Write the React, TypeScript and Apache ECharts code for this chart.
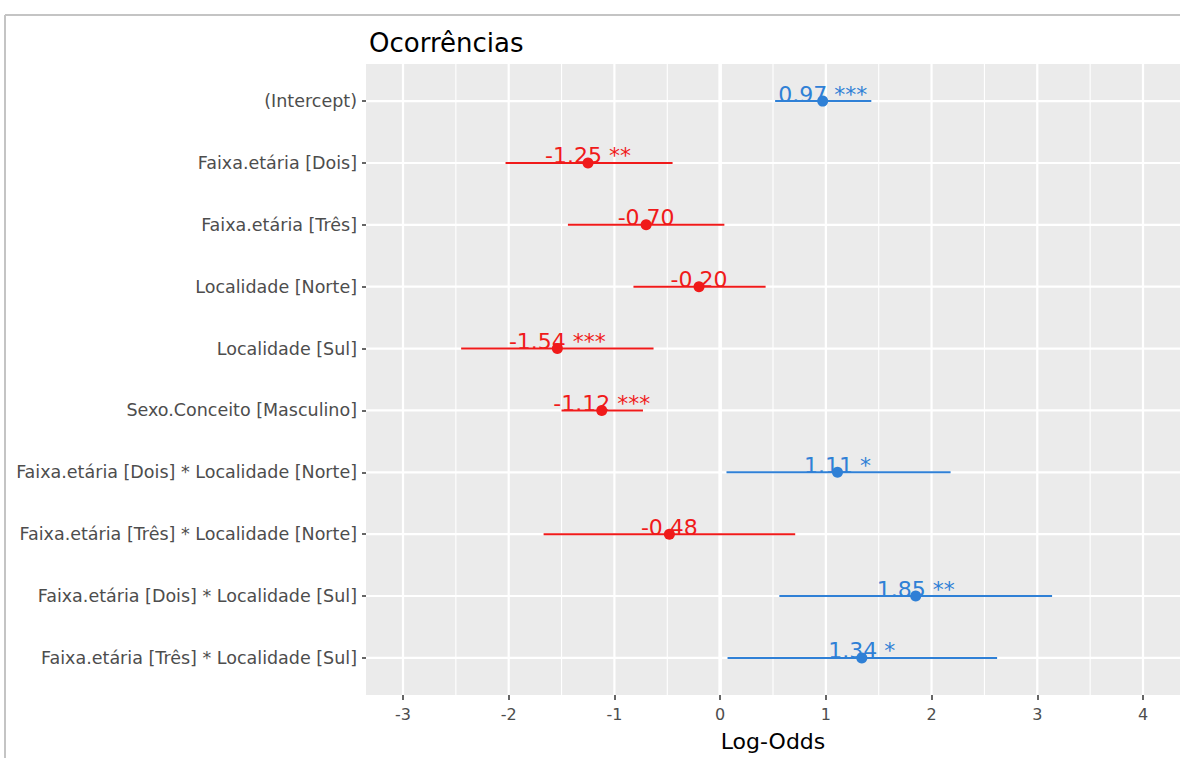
import React, { useEffect, useRef } from "react";
import * as echarts from "echarts";

const terms = [
  "(Intercept)",
  "Faixa.etária [Dois]",
  "Faixa.etária [Três]",
  "Localidade [Norte]",
  "Localidade [Sul]",
  "Sexo.Conceito [Masculino]",
  "Faixa.etária [Dois] * Localidade [Norte]",
  "Faixa.etária [Três] * Localidade [Norte]",
  "Faixa.etária [Dois] * Localidade [Sul]",
  "Faixa.etária [Três] * Localidade [Sul]",
];
const estimates = [0.97, -1.25, -0.7, -0.2, -1.54, -1.12, 1.11, -0.48, 1.85, 1.34];
const ciLow = [0.52, -2.03, -1.44, -0.82, -2.45, -1.5, 0.06, -1.67, 0.56, 0.07];
const ciHigh = [1.43, -0.45, 0.04, 0.43, -0.63, -0.73, 2.18, 0.71, 3.14, 2.62];
const stars = ["***", "**", "", "", "***", "***", "*", "", "**", "*"];
const xTicks = [-3, -2, -1, 0, 1, 2, 3, 4];
const xMinor = [-2.5, -1.5, -0.5, 0.5, 1.5, 2.5, 3.5];
const rowIdx = terms.map((_, i) => i);

const BLUE = "#2f80d6";
const RED = "#f01a1a";
const FONT = "DejaVu Sans";

export default function App() {
  const ref = useRef<HTMLDivElement>(null);
  useEffect(() => {
    if (!ref.current) return;
    const chart = echarts.init(ref.current, undefined, { renderer: "svg" });

    const labelText = estimates.map(
      (e, i) => e.toFixed(2) + (stars[i] ? " " + stars[i] : "")
    );

    const vData = [
      ...xMinor.map((v) => [v, 1.1]),
      ...xTicks.filter((v) => v !== 0).map((v) => [v, 2.2]),
    ];
    const hData = rowIdx.map((i) => [0, i]);

    const option: any = {
      animation: false,
      backgroundColor: "#ffffff",
      title: {
        text: "Ocorrências",
        left: 364,
        top: 25,
        textStyle: { fontFamily: FONT, fontSize: 26, fontWeight: "normal", color: "#000" },
      },
      graphic: [
        { type: "line", shape: { x1: 5, y1: 15, x2: 1180, y2: 15 }, style: { stroke: "#c4c4c4", lineWidth: 2 } },
        { type: "line", shape: { x1: 5, y1: 15, x2: 5, y2: 758 }, style: { stroke: "#c4c4c4", lineWidth: 2 } },
      ],
      grid: {
        left: 366,
        top: 64,
        right: 0,
        bottom: 63,
        show: true,
        backgroundColor: "#ebebeb",
        borderWidth: 0,
      },
      xAxis: {
        type: "value",
        min: -3.35,
        max: 4.35,
        axisLine: { show: false, onZero: false },
        splitLine: { show: false },
        axisTick: {
          show: true,
          customValues: xTicks,
          length: 5,
          lineStyle: { color: "#333", width: 1.5 },
        },
        axisLabel: {
          customValues: xTicks,
          fontFamily: FONT,
          fontSize: 16,
          color: "#4d4d4d",
          margin: 11,
        },
        name: "Log-Odds",
        nameLocation: "middle",
        nameGap: 35,
        nameTextStyle: { fontFamily: FONT, fontSize: 22, color: "#000" },
      },
      yAxis: {
        type: "value",
        inverse: true,
        min: -0.6,
        max: 9.6,
        axisLine: { show: false, onZero: false },
        splitLine: { show: false },
        axisTick: {
          show: true,
          customValues: rowIdx,
          length: 4,
          lineStyle: { color: "#333", width: 1.5 },
        },
        axisLabel: {
          customValues: rowIdx,
          formatter: (v: number) => terms[Math.round(v)] ?? "",
          fontFamily: FONT,
          fontSize: 17.5,
          color: "#4d4d4d",
          margin: 9,
        },
      },
      series: [
        {
          type: "custom",
          silent: true,
          z: 1,
          data: hData,
          encode: { x: 0, y: 1 },
          renderItem: (params: any, api: any) => {
            const p = api.coord([0, api.value(1)]);
            const cs = params.coordSys;
            return {
              type: "line",
              shape: { x1: cs.x, y1: p[1], x2: cs.x + cs.width, y2: p[1] },
              style: { stroke: "#ffffff", lineWidth: 2.2 },
            };
          },
        },
        {
          type: "custom",
          silent: true,
          z: 2,
          data: vData,
          encode: { x: 0 },
          renderItem: (params: any, api: any) => {
            const p = api.coord([api.value(0), 0]);
            const cs = params.coordSys;
            return {
              type: "line",
              shape: { x1: p[0], y1: cs.y, x2: p[0], y2: cs.y + cs.height },
              style: { stroke: "#ffffff", lineWidth: api.value(1) },
            };
          },
        },
        {
          type: "custom",
          silent: true,
          z: 3,
          data: [[0, 3.6]],
          encode: { x: 0 },
          renderItem: (params: any, api: any) => {
            const p = api.coord([api.value(0), 0]);
            const cs = params.coordSys;
            return {
              type: "line",
              shape: { x1: p[0], y1: cs.y, x2: p[0], y2: cs.y + cs.height },
              style: { stroke: "#ffffff", lineWidth: api.value(1) },
            };
          },
        },
        {
          type: "custom",
          silent: true,
          z: 5,
          data: rowIdx.map((i) => [i, estimates[i], ciLow[i], ciHigh[i]]),
          encode: { y: 0, x: [1, 2, 3] },
          renderItem: (params: any, api: any) => {
            const i = api.value(0);
            const est = api.value(1);
            const lo = api.value(2);
            const hi = api.value(3);
            const color = est >= 0 ? BLUE : RED;
            const pLo = api.coord([lo, i]);
            const pHi = api.coord([hi, i]);
            const pE = api.coord([est, i]);
            return {
              type: "group",
              children: [
                {
                  type: "line",
                  shape: { x1: pLo[0], y1: pLo[1], x2: pHi[0], y2: pHi[1] },
                  style: { stroke: color, lineWidth: 2 },
                },
                {
                  type: "text",
                  x: pE[0],
                  y: pE[1] - 7,
                  style: {
                    text: labelText[params.dataIndex],
                    fill: color,
                    fontFamily: FONT,
                    fontSize: 22,
                    align: "center",
                    verticalAlign: "middle",
                  },
                },
                {
                  type: "circle",
                  shape: { cx: pE[0], cy: pE[1], r: 5.5 },
                  style: { fill: color },
                },
              ],
            };
          },
        },
      ],
    };
    chart.setOption(option);
    return () => chart.dispose();
  }, []);

  return (
    <div
      ref={ref}
      style={{ position: "absolute", left: 0, top: 0, width: 1180, height: 758 }}
    />
  );
}
